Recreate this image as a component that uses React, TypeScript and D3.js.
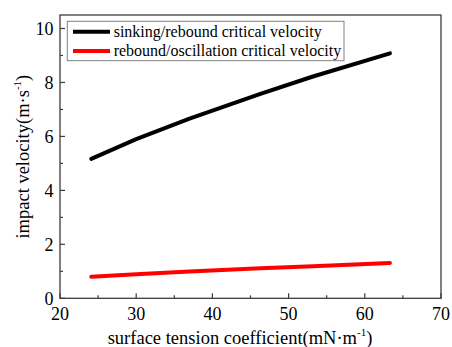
import React from "react";
import * as d3 from "d3";

const tensionSink = [24.1, 30, 37, 46.3, 53.2, 63.3];
const velocitySink = [5.17, 5.9, 6.66, 7.58, 8.22, 9.08];
const tensionOsc = [24.1, 30, 37, 46.3, 53.2, 63.3];
const velocityOsc = [0.8, 0.89, 0.99, 1.11, 1.19, 1.31];
const xTicks = [20, 30, 40, 50, 60, 70];
const xMinor = [25, 35, 45, 55, 65];
const yTicks = [0, 2, 4, 6, 8, 10];
const yMinor = [1, 3, 5, 7, 9];
const legendLabels = ["sinking/rebound critical velocity", "rebound/oscillation critical velocity"];
const seriesColors = ["#000000", "#ff0000"];

const W = 452;
const H = 347;
const left = 60;
const right = 441;
const top = 15;
const bottom = 298.3;
const FONT = "'Liberation Serif', 'Times New Roman', serif";
const ts = (size: number) => ({ fontFamily: FONT, fontSize: size + "px", fill: "#000" });

export default function App() {
  const x = d3.scaleLinear().domain([20, 70]).range([left, right]);
  const y = d3.scaleLinear().domain([0, 10.5]).range([bottom, top]);
  const line = d3
    .line<[number, number]>()
    .x((d) => x(d[0]))
    .y((d) => y(d[1]));
  const series = [
    tensionSink.map((t, i) => [t, velocitySink[i]] as [number, number]),
    tensionOsc.map((t, i) => [t, velocityOsc[i]] as [number, number]),
  ];
  const axisColor = "#3c3c3c";
  return (
    <svg
      width={W}
      height={H}
      style={{ position: "absolute", left: 0, top: 0, background: "#fff" }}
    >
      <rect x={0} y={0} width={W} height={H} fill="#fff" />
      {series.map((s, i) => (
        <path
          key={i}
          d={line(s) || ""}
          fill="none"
          stroke={seriesColors[i]}
          strokeWidth={4}
          strokeLinecap="round"
          strokeLinejoin="round"
        />
      ))}
      <rect
        x={left}
        y={top}
        width={right - left}
        height={bottom - top}
        fill="none"
        stroke={axisColor}
        strokeWidth={1.3}
      />
      {xTicks.map((t) => (
        <g key={"x" + t}>
          <line x1={x(t)} x2={x(t)} y1={bottom} y2={bottom - 5} stroke={axisColor} strokeWidth={1.2} />
          <text x={x(t)} y={320} textAnchor="middle" style={ts(18)}>
            {t}
          </text>
        </g>
      ))}
      {xMinor.map((t) => (
        <line key={"xm" + t} x1={x(t)} x2={x(t)} y1={bottom} y2={bottom - 3} stroke={axisColor} strokeWidth={1.2} />
      ))}
      {yTicks.map((t) => (
        <g key={"y" + t}>
          <line x1={left} x2={left + 5} y1={y(t)} y2={y(t)} stroke={axisColor} strokeWidth={1.2} />
          <text x={53.5} y={y(t)} dy="0.35em" textAnchor="end" style={ts(18)}>
            {t}
          </text>
        </g>
      ))}
      {yMinor.map((t) => (
        <line key={"ym" + t} x1={left} x2={left + 3} y1={y(t)} y2={y(t)} stroke={axisColor} strokeWidth={1.2} />
      ))}
      <text x={240} y={344} textAnchor="middle" style={ts(18.5)}>
        surface tension coefficient(mN·m
        <tspan style={{ fontSize: "11px" }} dy={-8}>-1</tspan>
        <tspan dy={8}>)</tspan>
      </text>
      <text transform={`translate(29, ${(top + bottom) / 2}) rotate(-90)`} textAnchor="middle" style={ts(18.5)}>
        impact velocity(m·s
        <tspan style={{ fontSize: "11px" }} dy={-8}>-1</tspan>
        <tspan dy={8}>)</tspan>
      </text>
      <rect x={67.3} y={21.3} width={276.7} height={39.4} fill="#fff" stroke="#808080" strokeWidth={1} />
      {legendLabels.map((lab, i) => (
        <g key={lab}>
          <line
            x1={73}
            x2={110}
            y1={31.7 + i * 19.4}
            y2={31.7 + i * 19.4}
            stroke={seriesColors[i]}
            strokeWidth={4}
          />
          <text x={113.7} y={31.7 + i * 19.4} dy="0.33em" style={ts(16)}>
            {lab}
          </text>
        </g>
      ))}
    </svg>
  );
}
